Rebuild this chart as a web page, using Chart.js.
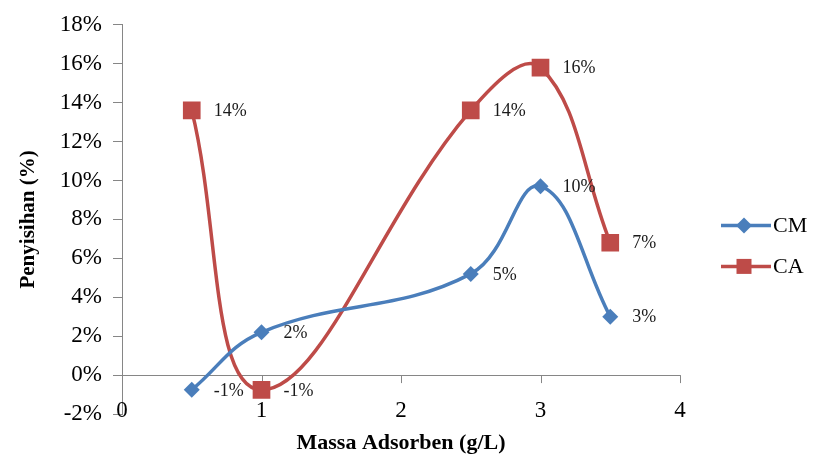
<!DOCTYPE html>
<html>
<head>
<meta charset="utf-8">
<script src="https://cdn.jsdelivr.net/npm/chart.js@4.4.1/dist/chart.umd.min.js"></script>
<style>
  html, body { margin: 0; padding: 0; background: #fff; }
  #wrap { width: 823px; height: 464px; }
</style>
</head>
<body>
<div id="wrap"><canvas id="c" width="823" height="464"></canvas></div>
<script>
// Massa adsorben (g/L)
const massa = [0.5, 1, 2.5, 3, 3.5];
// Penyisihan (%) per adsorben
const seriesNames = ['CM', 'CA'];
const cmValues = [-0.76, 2.2, 5.2, 9.7, 3.0];
const caValues = [13.6, -0.76, 13.6, 15.8, 6.8];
// Axis ticks
const xTicks = [0, 1, 2, 3, 4];
const yTicks = [-2, 0, 2, 4, 6, 8, 10, 12, 14, 16, 18];

const SERIF = "'Liberation Serif', 'Times New Roman', serif";
const AXIS = '#868686';
const BLUE = '#4A7EBB';
const RED = '#BE4B48';

const toPoints = vals => massa.map((x, i) => ({ x: x, y: vals[i] }));

// Horizontal axis sits at 0%: tick marks hang below it, labels sit near the bottom edge
const zeroAxis = {
  id: 'zeroAxis',
  beforeDatasetsDraw(chart) {
    const { ctx, chartArea, scales: { x, y } } = chart;
    const y0 = y.getPixelForValue(0);
    ctx.save();
    ctx.strokeStyle = AXIS;
    ctx.lineWidth = 1;
    xTicks.forEach(v => {
      const px = Math.round(x.getPixelForValue(v)) + 0.5;
      ctx.beginPath();
      ctx.moveTo(px, y0);
      ctx.lineTo(px, y0 + 8);
      ctx.stroke();
    });
    ctx.font = '23px ' + SERIF;
    ctx.fillStyle = '#000';
    ctx.textAlign = 'center';
    ctx.textBaseline = 'middle';
    xTicks.forEach(v => {
      ctx.fillText(String(v), x.getPixelForValue(v), chartArea.bottom - 3);
    });
    ctx.restore();
  }
};

// Value labels to the right of each point
const valueLabels = {
  id: 'valueLabels',
  afterDatasetsDraw(chart) {
    const { ctx } = chart;
    ctx.save();
    ctx.font = '18px ' + SERIF;
    ctx.fillStyle = '#1a1a1a';
    ctx.textAlign = 'left';
    ctx.textBaseline = 'middle';
    chart.data.datasets.forEach((ds, di) => {
      const meta = chart.getDatasetMeta(di);
      meta.data.forEach((pt, i) => {
        const v = ds.data[i].y;
        ctx.fillText(Math.round(v) + '%', pt.x + 22, pt.y + 1);
      });
    });
    ctx.restore();
  }
};

function drawMarker(ctx, style, cx, cy, r, color) {
  ctx.fillStyle = color;
  ctx.beginPath();
  if (style === 'rect') {
    ctx.rect(cx - r, cy - r, 2 * r, 2 * r);
  } else {
    ctx.moveTo(cx, cy - r);
    ctx.lineTo(cx + r, cy);
    ctx.lineTo(cx, cy + r);
    ctx.lineTo(cx - r, cy);
    ctx.closePath();
  }
  ctx.fill();
}

// Legend: line with marker, then series name
const lineLegend = {
  id: 'lineLegend',
  afterDraw(chart) {
    const { ctx, chartArea } = chart;
    const x0 = chartArea.right + 41;
    const mid = (chartArea.top + chartArea.bottom) / 2;
    const rows = [mid + 6, mid + 47];
    ctx.save();
    ctx.font = '22px ' + SERIF;
    ctx.textAlign = 'left';
    ctx.textBaseline = 'middle';
    chart.data.datasets.forEach((ds, i) => {
      const yy = rows[i];
      ctx.strokeStyle = ds.borderColor;
      ctx.lineWidth = 3.5;
      ctx.beginPath();
      ctx.moveTo(x0, yy);
      ctx.lineTo(x0 + 50, yy);
      ctx.stroke();
      drawMarker(ctx, ds.pointStyle === 'rect' ? 'rect' : 'diamond', x0 + 23, yy,
        ds.pointStyle === 'rect' ? 7.5 : 8, ds.backgroundColor);
      ctx.fillStyle = '#000';
      ctx.fillText(ds.label, x0 + 52, yy + 1);
    });
    ctx.restore();
  }
};

new Chart(document.getElementById('c'), {
  type: 'line',
  data: {
    datasets: [
      {
        label: seriesNames[0],
        data: toPoints(cmValues),
        borderColor: BLUE,
        backgroundColor: BLUE,
        borderWidth: 3.5,
        tension: 0.4,
        pointStyle: 'rectRot',
        pointRadius: 8,
        pointBorderWidth: 0,
        pointBackgroundColor: BLUE
      },
      {
        label: seriesNames[1],
        data: toPoints(caValues),
        borderColor: RED,
        backgroundColor: RED,
        borderWidth: 3.5,
        tension: 0.4,
        pointStyle: 'rect',
        pointRadius: 12.5,
        pointBorderWidth: 0,
        pointBackgroundColor: RED
      }
    ]
  },
  options: {
    responsive: false,
    animation: false,
    devicePixelRatio: 1,
    layout: { padding: { left: 0, top: 20, right: 143, bottom: 0 } },
    plugins: {
      legend: { display: false },
      tooltip: { enabled: false }
    },
    scales: {
      x: {
        type: 'linear',
        min: 0,
        max: 4,
        afterBuildTicks: s => { s.ticks = xTicks.map(v => ({ value: v })); },
        afterFit: s => { s.height = 50; },
        border: { display: false },
        grid: { display: false, drawTicks: false },
        ticks: { display: false },
        title: {
          display: true,
          text: 'Massa Adsorben (g/L)',
          color: '#000',
          font: { family: SERIF, size: 22, weight: 'bold' },
          padding: { top: 0, bottom: 7 }
        }
      },
      y: {
        min: -2,
        max: 18,
        afterBuildTicks: s => { s.ticks = yTicks.map(v => ({ value: v })); },
        afterFit: s => { s.width = 122; },
        border: { display: true, color: AXIS, width: 1 },
        grid: {
          drawOnChartArea: true,
          drawTicks: true,
          tickLength: 9,
          color: c => (c.tick && c.tick.value === 0 ? AXIS : 'rgba(0,0,0,0)'),
          tickColor: AXIS,
          lineWidth: 1
        },
        ticks: {
          padding: 11,
          color: '#000',
          font: { family: SERIF, size: 23 },
          callback: v => v + '%'
        },
        title: {
          display: true,
          text: 'Penyisihan (%)',
          color: '#000',
          font: { family: SERIF, size: 21, weight: 'bold' },
          padding: { top: 16, bottom: 0 }
        }
      }
    }
  },
  plugins: [zeroAxis, valueLabels, lineLegend]
});
</script>
</body>
</html>
